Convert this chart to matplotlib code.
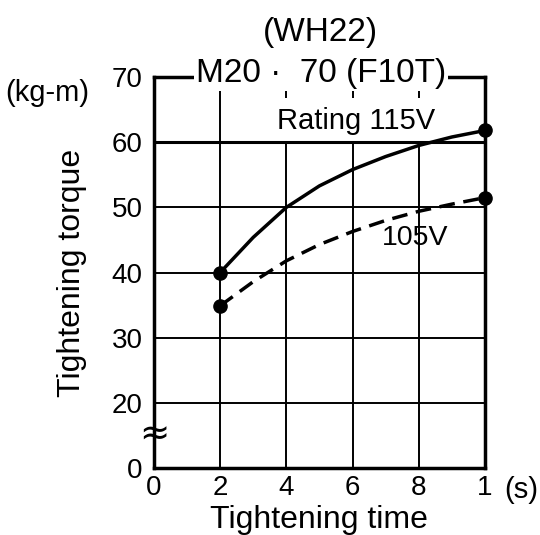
import matplotlib.pyplot as plt

plt.rcParams['font.family'] = ['Liberation Sans', 'DejaVu Sans']

# ===== データ =====
time_s = [2, 3, 4, 5, 6, 7, 8, 9, 10]
torque_115v = [40, 45.4, 50, 53.3, 55.8, 57.8, 59.5, 60.8, 61.8]
torque_105v = [34.9, 38.6, 41.8, 44.3, 46.3, 48.0, 49.4, 50.5, 51.5]
rating = 60

x_ticks = [0, 2, 4, 6, 8, 10]
x_tick_labels = ["0", "2", "4", "6", "8", "1"]
# 縦軸は途中で省略 (0 は 10 の位置に描く)
y_ticks = [10, 20, 30, 40, 50, 60, 70]
y_tick_labels = ["0", "20", "30", "40", "50", "60", "70"]

fig = plt.figure(figsize=(5.4, 5.35), dpi=100)
ax = fig.add_axes([0.285, 0.125, 0.613, 0.731])

ax.set_xlim(0, 10)
ax.set_ylim(10, 70)
ax.set_xticks(x_ticks)
ax.set_xticklabels(x_tick_labels, fontsize=20)
ax.set_yticks(y_ticks)
ax.set_yticklabels(y_tick_labels, fontsize=20)
ax.tick_params(axis="x", length=0, pad=5)
ax.tick_params(axis="y", length=0, pad=8)
ax.grid(True, color="black", linewidth=1.4)
for s in ax.spines.values():
    s.set_linewidth(2.5)

# ===== 曲線 =====
ax.axhline(rating, color="black", linewidth=2.2, zorder=4)
ax.plot(time_s, torque_115v, color="black", linewidth=2.5, zorder=4)
ax.plot(time_s, torque_105v, color="black", linewidth=2.5,
        dashes=(4.5, 2.5), zorder=4)
ax.plot([time_s[0], time_s[-1]], [torque_115v[0], torque_115v[-1]], "o",
        color="black", markersize=9.5, zorder=5, clip_on=False)
ax.plot([time_s[0], time_s[-1]], [torque_105v[0], torque_105v[-1]], "o",
        color="black", markersize=9.5, zorder=5, clip_on=False)

# ===== 文字 =====
ax.text(3.72, 63.3, "Rating 115V", fontsize=21, va="center", zorder=3.5,
        bbox=dict(facecolor="white", edgecolor="none", pad=6))
ax.text(6.9, 45.3, "105V", fontsize=20.5, va="center", zorder=3.5)
ax.text(5.05, 70.6, "M20 ·  70 (F10T)", fontsize=24, ha="center",
        va="center", zorder=6,
        bbox=dict(facecolor="white", edgecolor="none", pad=1.5),
        clip_on=False)
fig.text(0.593, 0.94, "(WH22)", fontsize=24, ha="center", va="center")
fig.text(0.087, 0.826, "(kg-m)", fontsize=21, ha="center", va="center")
fig.text(0.965, 0.085, "(s)", fontsize=21, ha="center", va="center")
ax.text(0, 15.2, "≈", fontsize=26, ha="center", va="center",
        family=["DejaVu Sans"], zorder=6, clip_on=False)

ax.set_xlabel("Tightening time", fontsize=23, labelpad=3)
ax.set_ylabel("Tightening torque", fontsize=23, labelpad=18)

plt.savefig("out.png", dpi=100)
plt.close()
